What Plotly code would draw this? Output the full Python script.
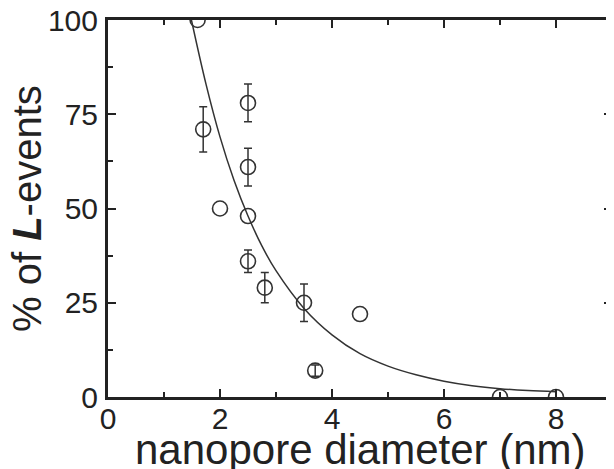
import plotly.graph_objects as go

# Measured data points (nanopore diameter in nm, % of L-events)
diameter = [1.6, 1.7, 2.0, 2.5, 2.5, 2.5, 2.5, 2.8, 3.5, 3.7, 4.5, 7.0, 8.0]
percent = [100, 71, 50, 78, 61, 48, 36, 29, 25, 7, 22, 0, 0]
err = [None, 6, None, 5, 5, None, 3, 4, 5, 1.5, None, None, None]

# Fitted curve
fit_x = [1.49, 1.75, 2.0, 2.25, 2.5, 2.75, 3.0, 3.5, 4.0, 4.5, 5.0, 5.5, 6.0, 6.5, 7.0, 7.5, 8.0]
fit_y = [100, 83, 69, 57.5, 48, 40, 33.5, 23.5, 16.5, 11.5, 8.2, 5.9, 4.2, 3.0, 2.2, 1.7, 1.4]

x_ticks = [0, 2, 4, 6, 8]
y_ticks = [0, 25, 50, 75, 100]

ink = "#222222"
font = "Liberation Sans, Arial, sans-serif"

with_err = [i for i, e in enumerate(err) if e is not None]
no_err = [i for i, e in enumerate(err) if e is None]

fig = go.Figure()
fig.add_trace(go.Scatter(
    x=fit_x, y=fit_y, mode="lines", line=dict(color="#333333", width=1.5, shape="spline"),
    hoverinfo="skip", showlegend=False,
))
marker = dict(symbol="circle-open", size=15, color="#333333", line=dict(width=1.6, color="#333333"))
fig.add_trace(go.Scatter(
    x=[diameter[i] for i in with_err], y=[percent[i] for i in with_err], mode="markers",
    marker=marker,
    error_y=dict(type="data", array=[err[i] for i in with_err],
                 color="#333333", thickness=1.5, width=4),
    showlegend=False,
))
fig.add_trace(go.Scatter(
    x=[diameter[i] for i in no_err], y=[percent[i] for i in no_err], mode="markers",
    marker=marker, showlegend=False,
))

# page body has an 8px margin, so the figure is sized to end at the window edge
fig.update_layout(
    width=606, height=461,
    margin=dict(l=100, r=2, t=12, b=72),
    paper_bgcolor="white", plot_bgcolor="white",
    font=dict(family=font, color=ink),
)
fig.update_xaxes(
    range=[0, 9], tickvals=x_ticks, ticks="inside", ticklen=8, tickwidth=2, tickcolor=ink,
    minor=dict(dtick=1, ticks="inside", ticklen=5, tickwidth=2, tickcolor=ink),
    showline=True, linewidth=3, linecolor=ink, mirror="ticks", showgrid=False, zeroline=False,
    tickfont=dict(size=30, family=font, color=ink), automargin=False, ticklabelstandoff=-7,
    ticklabeloverflow="allow",
)
fig.update_yaxes(
    range=[0, 100], tickvals=y_ticks, ticks="inside", ticklen=8, tickwidth=2, tickcolor=ink,
    minor=dict(dtick=12.5, ticks="inside", ticklen=5, tickwidth=2, tickcolor=ink),
    showline=True, linewidth=3, linecolor=ink, mirror="ticks", showgrid=False, zeroline=False,
    tickfont=dict(size=30, family=font, color=ink), automargin=False, ticklabelstandoff=1,
    ticklabeloverflow="allow",
)
fig.add_annotation(text="nanopore diameter (nm)", xref="paper", yref="paper", x=0.5, y=-0.138,
                   xanchor="center", yanchor="middle", showarrow=False,
                   font=dict(size=42, family=font, color=ink))
fig.add_annotation(text="% of <b><i>L</i></b>-events", xref="paper", yref="paper", x=-0.161, y=0.501,
                   xanchor="center", yanchor="middle", textangle=-90, showarrow=False,
                   font=dict(size=40, family=font, color=ink))

fig.write_html("out.html")
